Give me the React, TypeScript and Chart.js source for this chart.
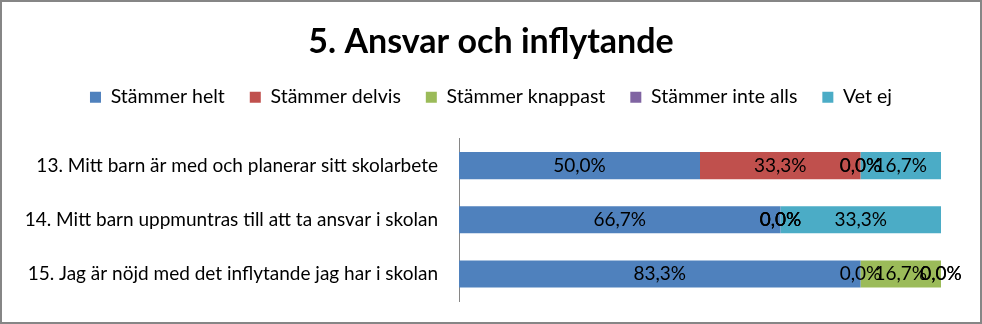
import React, { useEffect, useRef } from "react";
import { Chart, registerables } from "chart.js";

Chart.register(...registerables);

const titleText = "5. Ansvar och inflytande";
const categories = [
  "13. Mitt barn är med och planerar sitt skolarbete",
  "14. Mitt barn uppmuntras till att ta ansvar i skolan",
  "15. Jag är nöjd med det inflytande jag har i skolan",
];
const seriesNames = ["Stämmer helt", "Stämmer delvis", "Stämmer knappast", "Stämmer inte alls", "Vet ej"];
const seriesColors = ["#4F81BD", "#C0504D", "#9BBB59", "#8064A2", "#4BACC6"];
const stammerHelt = [50.0, 66.7, 83.3];
const stammerDelvis = [33.3, 0.0, 0.0];
const stammerKnappast = [0.0, 0.0, 16.7];
const stammerInteAlls = [0.0, 0.0, 0.0];
const vetEj = [16.7, 33.3, 0.0];
const seriesValues = [stammerHelt, stammerDelvis, stammerKnappast, stammerInteAlls, vetEj];

const FONT = "Lato, 'Liberation Sans', sans-serif";

const fmt = (v: number) => v.toFixed(1).replace(".", ",") + "%";

const frame = {
  id: "frame",
  beforeDraw(chart: any) {
    const { ctx, width, height } = chart;
    ctx.save();
    ctx.fillStyle = "#ffffff";
    ctx.fillRect(0, 0, width, height);
    ctx.strokeStyle = "#868686";
    ctx.lineWidth = 2;
    ctx.strokeRect(1, 1, width - 2, height - 2);
    ctx.restore();
  },
};

const valueLabels = {
  id: "valueLabels",
  afterDatasetsDraw(chart: any) {
    const ctx = chart.ctx;
    ctx.save();
    ctx.font = `19px ${FONT}`;
    ctx.fillStyle = "#000000";
    ctx.textAlign = "center";
    ctx.textBaseline = "middle";
    chart.data.datasets.forEach((ds: any, i: number) => {
      const meta = chart.getDatasetMeta(i);
      meta.data.forEach((el: any, j: number) => {
        const p = el.getProps(["x", "y", "base"], true);
        ctx.fillText(fmt(ds.data[j]), (p.x + p.base) / 2, p.y);
      });
    });
    ctx.restore();
  },
};

const fixWidth = (w: number) => (s: any) => {
  s.width = w;
  s.paddingTop = 0;
  s.paddingBottom = 0;
  s.paddingLeft = 0;
  s.paddingRight = 0;
};

export default function App() {
  const ref = useRef<HTMLCanvasElement | null>(null);
  useEffect(() => {
    if (!ref.current) return;
    const chart = new Chart(ref.current, {
      type: "bar",
      data: {
        labels: categories,
        datasets: seriesNames.map((name, i) => ({
          label: name,
          data: seriesValues[i],
          backgroundColor: seriesColors[i],
          borderWidth: 0,
          categoryPercentage: 0.5,
          barPercentage: 1.0,
          yAxisID: "y",
        })),
      },
      options: {
        indexAxis: "y",
        responsive: false,
        animation: false,
        layout: { padding: { left: 0, right: 0, top: 0, bottom: 23 } },
        scales: {
          x: { stacked: true, min: 0, max: 100, display: false },
          y: {
            stacked: true,
            grid: { display: false, drawTicks: false, tickLength: 0 },
            border: { display: true, color: "#868686", width: 1 },
            ticks: { color: "#000000", padding: 21, font: { family: FONT, size: 19 } },
            afterFit: fixWidth(459),
          },
          yRight: {
            type: "category",
            axis: "y",
            position: "right",
            display: true,
            grid: { display: false, drawTicks: false },
            border: { display: false },
            ticks: { display: false },
            afterFit: fixWidth(41),
          },
        },
        plugins: {
          tooltip: { enabled: false },
          title: {
            display: true,
            text: titleText,
            color: "#000000",
            font: { family: FONT, size: 34, weight: "bold" },
            padding: { top: 21.6, bottom: 0 },
          },
          legend: {
            display: true,
            position: "top",
            labels: {
              color: "#000000",
              boxWidth: 11,
              boxHeight: 11,
              padding: 25,
              font: { family: FONT, size: 19.5 },
            },
          },
          subtitle: {
            display: true,
            text: "",
            weight: 500,
            font: { size: 10 },
            padding: { top: 0, bottom: 9.6 },
          },
        },
      },
      plugins: [frame, valueLabels],
    } as any);
    return () => chart.destroy();
  }, []);
  return (
    <div style={{ position: "absolute", left: 0, top: 0, width: 982, height: 324 }}>
      <canvas ref={ref} width={982} height={324} />
    </div>
  );
}
